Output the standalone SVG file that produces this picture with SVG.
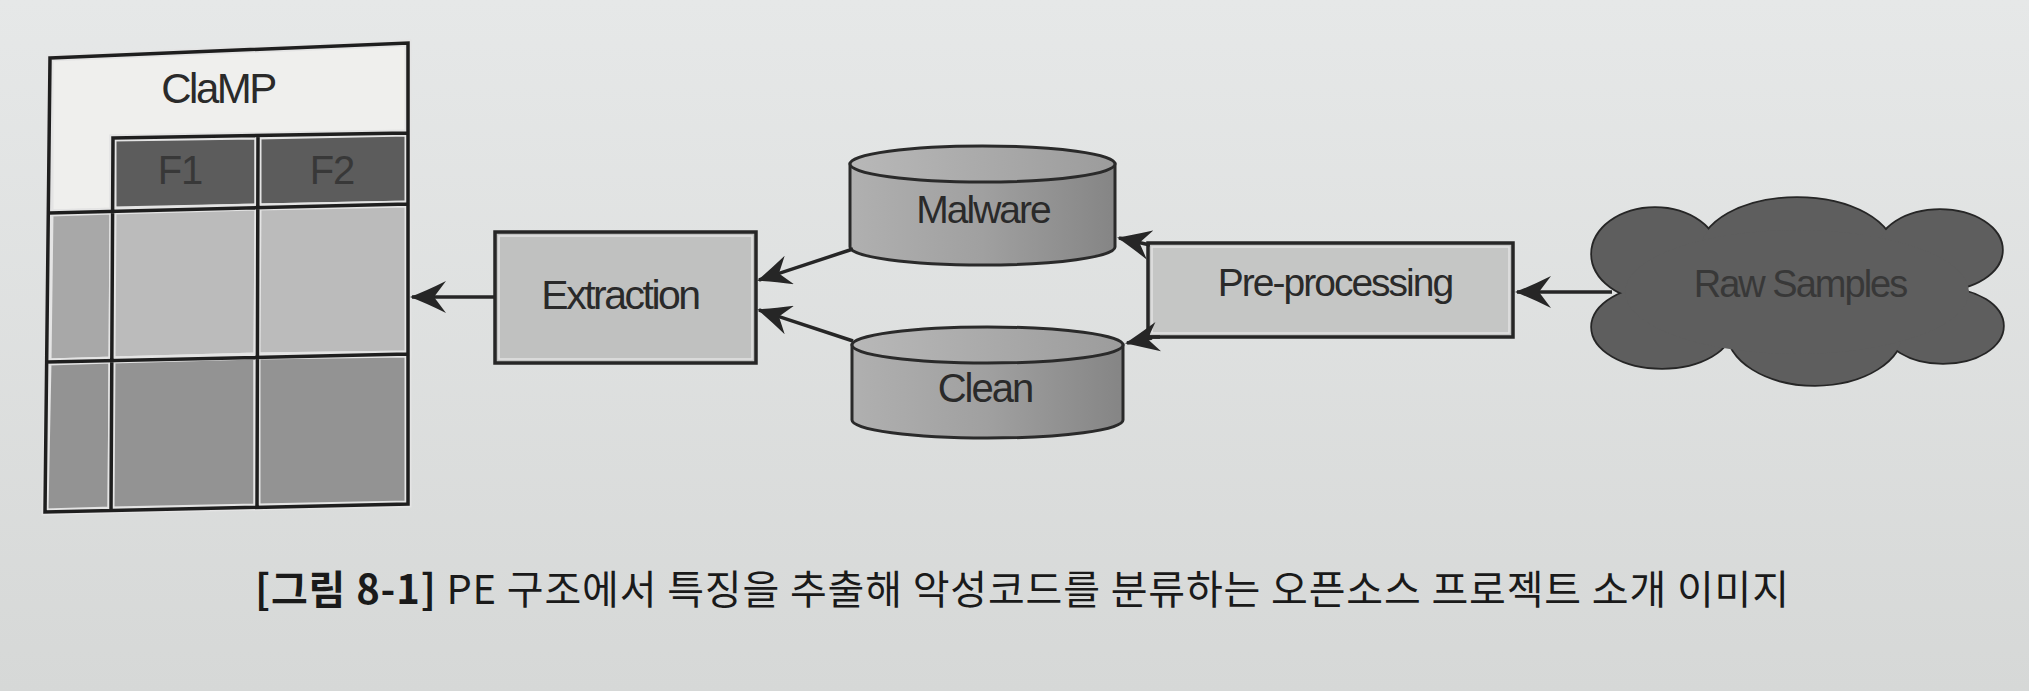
<svg xmlns="http://www.w3.org/2000/svg" xmlns:xlink="http://www.w3.org/1999/xlink" width="2029" height="691" viewBox="0 0 2029 691">
  <defs>
    <linearGradient id="bg" x1="0" y1="0" x2="0" y2="1">
      <stop offset="0" stop-color="#e6e8e8"/>
      <stop offset="1" stop-color="#d6d8d7"/>
    </linearGradient>
    <linearGradient id="cyl" x1="0" y1="0" x2="1" y2="0">
      <stop offset="0" stop-color="#b0b0b0"/>
      <stop offset="0.5" stop-color="#a0a0a0"/>
      <stop offset="1" stop-color="#858585"/>
    </linearGradient>
    <linearGradient id="cyltop" x1="0" y1="0" x2="1" y2="0">
      <stop offset="0" stop-color="#b8b8b8"/>
      <stop offset="1" stop-color="#9c9c9c"/>
    </linearGradient>
    <marker id="ah" viewBox="0 0 36 32" refX="34" refY="16" markerWidth="36" markerHeight="32" markerUnits="userSpaceOnUse" orient="auto">
      <path d="M36,16 Q20,10 0,0 L12,16 L0,32 Q20,22 36,16 Z" fill="#262626"/>
    </marker>
    <marker id="ah2" viewBox="0 0 34 30" refX="32" refY="15" markerWidth="34" markerHeight="30" markerUnits="userSpaceOnUse" orient="auto">
      <path d="M34,15 Q19,9 0,0 L11,15 L0,30 Q19,21 34,15 Z" fill="#262626"/>
    </marker>
    <g id="cloudShape">
      <ellipse cx="1655" cy="254" rx="63" ry="46"/>
      <ellipse cx="1797" cy="252" rx="97" ry="54"/>
      <ellipse cx="1940" cy="250" rx="62" ry="40"/>
      <ellipse cx="1943" cy="326" rx="60" ry="37"/>
      <ellipse cx="1815" cy="330" rx="88" ry="55"/>
      <ellipse cx="1662" cy="327" rx="70" ry="41"/>
    </g>
  </defs>
  <style>
    .lbl { font-family: "Liberation Sans", Arial, Helvetica, sans-serif; fill: #2a2a2a; text-anchor: middle; }
    .box { stroke: #262626; stroke-width: 3.5; }
    .hl { fill: none; stroke: #e2e2e2; stroke-width: 1.5; }
    .grid { stroke: #1e1e1e; stroke-width: 3.5; fill: none; stroke-linecap: square; }
    .cell { stroke: #e4e4e4; stroke-width: 7; stroke-linejoin: miter; }
    .conn { stroke: #262626; stroke-width: 3.5; fill: none; }
    .cyl { stroke: #2a2a2a; stroke-width: 3; }
  </style>

  <rect x="0" y="0" width="2029" height="691" fill="url(#bg)"/>

  <!-- ClaMP table -->
  <g id="clamp">
    <polygon class="cell" fill="#efefed" points="50,58 408,43 408,133 113,138 113,211 50,213"/>
    <polygon class="cell" fill="#5c5c5c" points="113,138 258,136 258,207 113,210"/>
    <polygon class="cell" fill="#5c5c5c" points="258,136 408,133 408,204 258,207"/>
    <polygon class="cell" fill="#a8a8a8" points="50,213 113,211 112,360 48,362"/>
    <polygon class="cell" fill="#bbbbbb" points="113,211 258,207 257,356 112,360"/>
    <polygon class="cell" fill="#bbbbbb" points="258,207 408,204 408,354 257,356"/>
    <polygon class="cell" fill="#939393" points="48,362 112,360 111,510 45,512"/>
    <polygon class="cell" fill="#939393" points="112,360 257,356 257,507 111,510"/>
    <polygon class="cell" fill="#939393" points="257,356 408,354 408,504 257,507"/>
    <path class="grid" d="M50,58 L408,43 L408,504 L45,512 Z M113,138 L408,133 M50,213 L408,204 M48,362 L408,354 M113,138 L111,510 M258,136 L257,507"/>
    <text class="lbl" x="218" y="103" font-size="42" letter-spacing="-2.5">ClaMP</text>
    <text class="lbl" x="180" y="184" font-size="40" letter-spacing="-1" style="fill:#383838">F1</text>
    <text class="lbl" x="332" y="184" font-size="40" letter-spacing="-1" style="fill:#383838">F2</text>
  </g>

  <!-- Extraction -->
  <g id="extraction">
    <rect class="box" x="495" y="232" width="261" height="131" fill="#c0c1c0"/>
    <rect class="hl" x="499" y="236" width="253" height="123"/>
    <text class="lbl" x="620" y="309" font-size="41" letter-spacing="-2.5">Extraction</text>
  </g>

  <!-- Malware cylinder -->
  <g id="malware">
    <path class="cyl" fill="url(#cyl)" d="M850,164 L850,247 A132.5,18 0 0 0 1115,247 L1115,164 Z"/>
    <ellipse class="cyl" fill="url(#cyltop)" cx="982.5" cy="164" rx="132.5" ry="18"/>
    <text class="lbl" x="983" y="223" font-size="39" letter-spacing="-2">Malware</text>
  </g>

  <!-- Clean cylinder -->
  <g id="clean">
    <path class="cyl" fill="url(#cyl)" d="M852,345 L852,420 A135.5,18 0 0 0 1123,420 L1123,345 Z"/>
    <ellipse class="cyl" fill="url(#cyltop)" cx="987.5" cy="345" rx="135.5" ry="18"/>
    <text class="lbl" x="985" y="402" font-size="40" letter-spacing="-2">Clean</text>
  </g>

  <!-- Pre-processing -->
  <g id="preprocessing">
    <rect class="box" x="1148" y="243" width="365" height="94" fill="#c5c6c5"/>
    <rect class="hl" x="1152" y="247" width="357" height="86"/>
    <text class="lbl" x="1335" y="296" font-size="39" letter-spacing="-2">Pre-processing</text>
  </g>

  <!-- Raw Samples cloud -->
  <g id="rawsamples">
    <use xlink:href="#cloudShape" fill="#5e5e5e" stroke="#262626" stroke-width="3.5"/>
    <use xlink:href="#cloudShape" fill="#5e5e5e" stroke="none"/>
    <ellipse cx="1797" cy="292" rx="172" ry="62" fill="#5e5e5e"/>
    <text class="lbl" x="1800" y="297" font-size="38" letter-spacing="-2" style="fill:#383838">Raw Samples</text>
  </g>

  <!-- Connectors -->
  <g id="connectors">
    <line class="conn" x1="495" y1="297" x2="412" y2="297" marker-end="url(#ah)"/>
    <line class="conn" x1="853" y1="249" x2="759" y2="280" marker-end="url(#ah2)"/>
    <line class="conn" x1="853" y1="341" x2="759" y2="310" marker-end="url(#ah2)"/>
    <line class="conn" x1="1150" y1="245" x2="1119" y2="238" marker-end="url(#ah2)"/>
    <line class="conn" x1="1160" y1="337" x2="1148" y2="337"/>
    <line class="conn" x1="1152" y1="338" x2="1127" y2="343" marker-end="url(#ah2)"/>
    <line class="conn" x1="1612" y1="292" x2="1517" y2="292" marker-end="url(#ah)"/>
  </g>

  <!-- Caption -->
  <text id="caption" x="255" y="604" font-size="40" textLength="1534" lengthAdjust="spacing" font-family="'Noto Sans CJK KR', 'Noto Sans', sans-serif" fill="#1a1a1a"><tspan font-weight="bold">[그림 8-1]</tspan> PE 구조에서 특징을 추출해 악성코드를 분류하는 오픈소스 프로젝트 소개 이미지</text>
</svg>
